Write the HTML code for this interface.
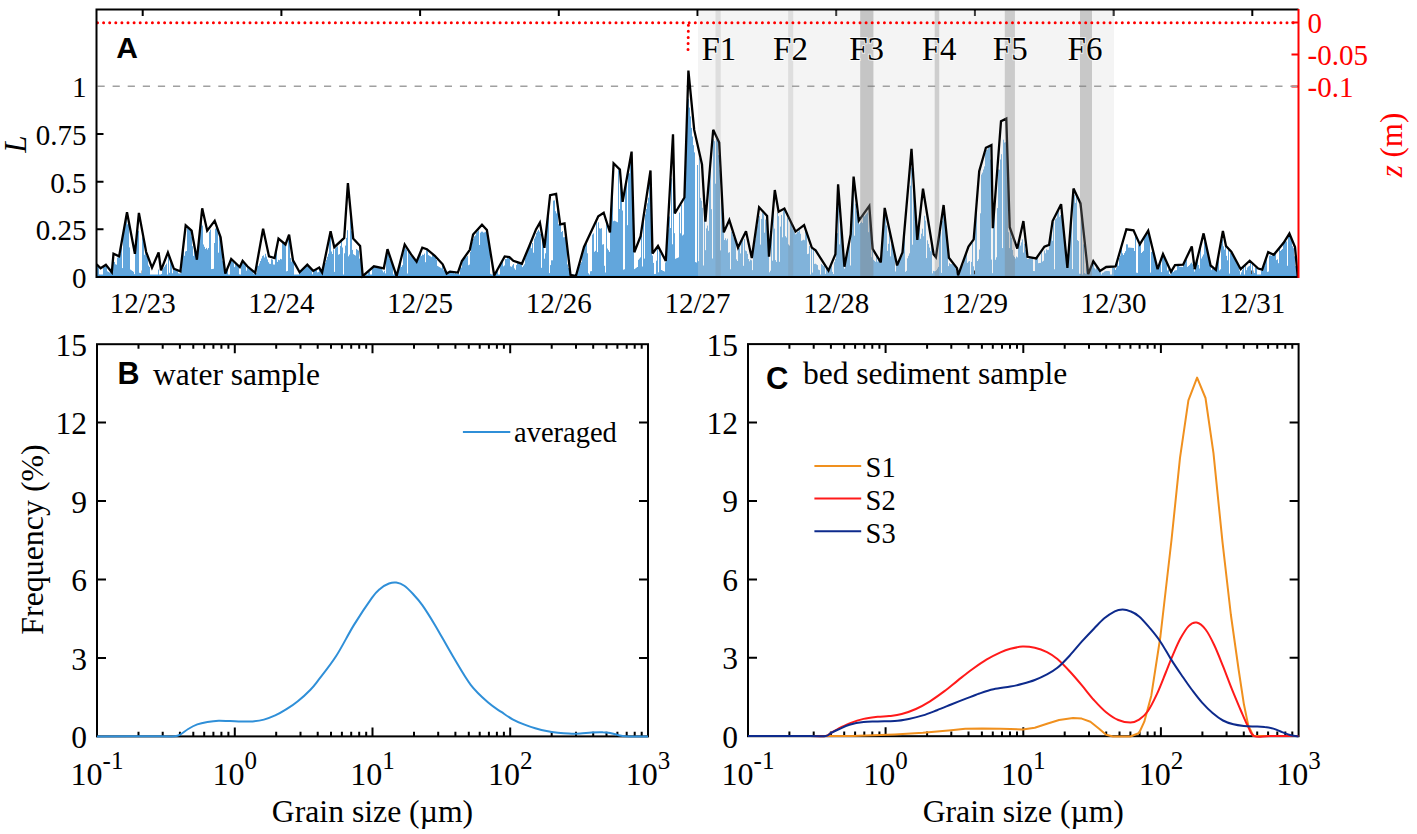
<!DOCTYPE html>
<html><head><meta charset="utf-8"><title>Figure</title>
<style>html,body{margin:0;padding:0;background:#fff;}body{width:1417px;height:834px;overflow:hidden;}svg{display:block;}</style>
</head><body>
<svg width="1417" height="834" viewBox="0 0 1417 834"><rect x="0" y="0" width="1417" height="834" fill="#fff"/>
<path d="M142.7 9.5v6.5M142.7 277.0v-6.5M281.4 9.5v6.5M281.4 277.0v-6.5M420.1 9.5v6.5M420.1 277.0v-6.5M558.8 9.5v6.5M558.8 277.0v-6.5M697.5 9.5v6.5M697.5 277.0v-6.5M836.2 9.5v6.5M836.2 277.0v-6.5M974.9 9.5v6.5M974.9 277.0v-6.5M1113.6 9.5v6.5M1113.6 277.0v-6.5M1252.3 9.5v6.5M1252.3 277.0v-6.5M96.5 277h7M96.5 229.3h7M96.5 181.7h7M96.5 134h7" stroke="#000" stroke-width="2" fill="none"/>
<path d="M1298.5 22.4h-7M1298.5 54.4h-7M1298.5 86.4h-7" stroke="#ff0000" stroke-width="2" fill="none"/>
<path d="M97.5 265.4V276M98.5 266.3V276M99.5 274.4V276M100.5 274.5V276M101.5 274.5V276M102.5 274.5V276M103.5 267V276M104.5 266.4V276M105.5 264.9V276M106.5 266.4V276M107.5 271.3V276M108.5 271.9V276M109.5 272.5V276M110.5 271.9V276M111.5 272.8V276M112.5 268.3V276M113.5 261.6V276M114.5 261.9V276M115.5 264.3V276M116.5 264.7V276M117.5 257.6V276M118.5 255.6V276M119.5 257.9V276M120.5 253.5V276M121.5 247.2V276M122.5 268.1V276M123.5 231.8V276M124.5 226.3V276M125.5 223.9V276M126.5 214.6V276M127.5 224.3V276M128.5 219.2V276M129.5 247.4V276M130.5 269.6V276M131.5 270.3V276M132.5 271V276M133.5 271.8V276M134.5 274.1V276M135.5 251.5V276M136.5 237.3V276M137.5 232.7V276M138.5 230.8V276M139.5 272.8V276M140.5 273.1V276M141.5 273.4V276M142.5 237.3V276M143.5 242V276M144.5 254.8V276M145.5 250V276M146.5 256V276M147.5 255V276M148.5 265.5V276M149.5 267V276M150.5 274.5V276M151.5 274.5V276M152.5 274.5V276M153.5 274.5V276M154.5 274.5V276M155.5 274.5V276M156.5 274.5V276M157.5 274.5V276M158.5 269.6V276M159.5 274.5V276M160.5 274.5V276M161.5 274V276M162.5 269.7V276M163.5 268.2V276M164.5 266.7V276M165.5 265.1V276M166.5 263.6V276M167.5 274.5V276M168.5 256.7V276M169.5 272.8V276M170.5 259.6V276M171.5 262.2V276M172.5 273.3V276M173.5 268V276M174.5 268.9V276M175.5 268.6V276M176.5 269.1V276M177.5 269.5V276M178.5 273.3V276M179.5 273.5V276M180.5 273.3V276M181.5 269.7V276M182.5 254.5V276M183.5 243.7V276M184.5 255.8V276M185.5 251.5V276M186.5 251V276M187.5 227.5V276M188.5 228.7V276M189.5 229.6V276M190.5 230.6V276M191.5 236.5V276M192.5 246.2V276M193.5 255.9V276M194.5 250.1V276M195.5 254.8V276M196.5 259.4V276M197.5 256.4V276M198.5 245.2V276M199.5 240.1V276M200.5 232V276M201.5 219.4V276M202.5 225.6V276M203.5 244.5V276M204.5 246.8V276M205.5 249V276M206.5 247.9V276M207.5 249.5V276M208.5 248V276M209.5 231.8V276M210.5 229.6V276M211.5 269.1V276M212.5 269V276M213.5 268.8V276M214.5 243V276M215.5 228.6V276M216.5 226.8V276M217.5 229.5V276M218.5 252.7V276M219.5 236.6V276M220.5 240V276M221.5 246.1V276M222.5 260.7V276M223.5 259.6V276M224.5 267.7V276M225.5 272.2V276M226.5 269.8V276M227.5 267.4V276M228.5 274.5V276M229.5 274.5V276M230.5 260V276M231.5 258.6V276M232.5 261.8V276M233.5 262.4V276M234.5 267.1V276M235.5 264.1V276M236.5 264.5V276M237.5 265.3V276M238.5 266.1V276M239.5 274.3V276M240.5 274.5V276M241.5 264.6V276M242.5 260.1V276M243.5 260.9V276M244.5 262.1V276M245.5 263.3V276M246.5 270.7V276M247.5 265.8V276M248.5 266.6V276M249.5 267.4V276M250.5 268.4V276M251.5 269.2V276M252.5 270V276M253.5 273.6V276M254.5 271.5V276M255.5 270.4V276M256.5 273.1V276M257.5 265.5V276M258.5 265.8V276M259.5 263.5V276M260.5 261V276M261.5 258.5V276M262.5 256.1V276M263.5 255.4V276M264.5 257.5V276M265.5 253.8V276M266.5 256.6V276M267.5 259.4V276M268.5 262.2V276M269.5 263.7V276M270.5 263.9V276M271.5 259.1V276M272.5 259.6V276M273.5 264.5V276M274.5 264.6V276M275.5 255.4V276M276.5 249.5V276M277.5 261.9V276M278.5 259.8V276M279.5 260.2V276M280.5 258.9V276M281.5 259.3V276M282.5 243V276M283.5 243.8V276M284.5 244.6V276M285.5 245.4V276M286.5 271.3V276M287.5 270.9V276M288.5 238.6V276M289.5 239.5V276M290.5 258V276M291.5 261.6V276M292.5 257.9V276M293.5 261.7V276M294.5 274.5V276M295.5 274.5V276M296.5 274.5V276M297.5 274.5V276M298.5 274.5V276M299.5 271.2V276M300.5 270.4V276M301.5 270.7V276M302.5 269.9V276M303.5 268.9V276M304.5 267.1V276M305.5 267.1V276M306.5 264.8V276M307.5 264.8V276M308.5 265.6V276M309.5 266.6V276M310.5 267.6V276M311.5 268.5V276M312.5 274.3V276M313.5 270.2V276M314.5 270.4V276M315.5 269.3V276M316.5 269.4V276M317.5 272.4V276M318.5 272.1V276M319.5 269.8V276M320.5 269.6V276M321.5 270.8V276M322.5 270.7V276M323.5 266.7V276M324.5 262.6V276M325.5 262.9V276M326.5 259.8V276M327.5 256.8V276M328.5 253.7V276M329.5 238V276M330.5 233.4V276M331.5 251.5V276M332.5 254V276M333.5 249.7V276M334.5 271.9V276M335.5 248.1V276M336.5 247.3V276M337.5 246.4V276M338.5 254.7V276M339.5 254.1V276M340.5 245.9V276M341.5 240.2V276M342.5 247.5V276M343.5 274.5V276M344.5 253.3V276M345.5 245.6V276M346.5 237.9V276M347.5 230.2V276M348.5 256.3V276M349.5 254.6V276M350.5 217.9V276M351.5 231.1V276M352.5 249.9V276M353.5 254.2V276M354.5 254.9V276M355.5 255.5V276M356.5 249V276M357.5 249.8V276M358.5 250.6V276M359.5 258.6V276M360.5 250.5V276M361.5 261.4V276M362.5 273.4V276M363.5 274.5V276M364.5 274.5V276M365.5 274.5V276M366.5 274.5V276M367.5 274.5V276M368.5 270.9V276M369.5 271.8V276M370.5 274.5V276M371.5 274.5V276M372.5 267.9V276M373.5 266.7V276M374.5 266.5V276M375.5 266.7V276M376.5 266.8V276M377.5 267V276M378.5 267.2V276M379.5 267.4V276M380.5 267.6V276M381.5 267.2V276M382.5 270.5V276M383.5 272.3V276M384.5 270.8V276M385.5 273.4V276M386.5 256.6V276M387.5 252.1V276M388.5 254.7V276M389.5 258.9V276M390.5 260.4V276M391.5 262.9V276M392.5 264.3V276M393.5 274.5V276M394.5 269.2V276M395.5 274.2V276M396.5 274.5V276M397.5 271.7V276M398.5 268.1V276M399.5 266V276M400.5 263.7V276M401.5 267V276M402.5 265.2V276M403.5 252.6V276M404.5 249.4V276M405.5 248.2V276M406.5 249.6V276M407.5 273.5V276M408.5 251.1V276M409.5 254.4V276M410.5 255.7V276M411.5 256.7V276M412.5 257.8V276M413.5 258.6V276M414.5 259.8V276M415.5 261.6V276M416.5 262.7V276M417.5 260.9V276M418.5 258.9V276M419.5 255.5V276M420.5 253.3V276M421.5 256V276M422.5 254.6V276M423.5 254.9V276M424.5 253.6V276M425.5 262.2V276M426.5 248.3V276M427.5 249V276M428.5 255.1V276M429.5 255.8V276M430.5 256.4V276M431.5 257.1V276M432.5 253.4V276M433.5 254V276M434.5 254.8V276M435.5 255.8V276M436.5 260V276M437.5 265.9V276M438.5 266.5V276M439.5 267.1V276M440.5 267.7V276M441.5 268.3V276M442.5 265.1V276M443.5 270.1V276M444.5 268.4V276M445.5 270.4V276M446.5 273V276M447.5 273V276M448.5 272.3V276M449.5 271.1V276M450.5 270.9V276M451.5 271V276M452.5 271.1V276M453.5 272.5V276M454.5 273.5V276M455.5 271.9V276M456.5 273.7V276M457.5 273.7V276M458.5 270.3V276M459.5 274.5V276M460.5 264.2V276M461.5 267.5V276M462.5 261.6V276M463.5 258.3V276M464.5 258.7V276M465.5 257.4V276M466.5 257.2V276M467.5 256V276M468.5 265.2V276M469.5 264.6V276M470.5 251.9V276M471.5 245.6V276M472.5 241.6V276M473.5 238.8V276M474.5 236.4V276M475.5 235.4V276M476.5 232.5V276M477.5 231.6V276M478.5 230.5V276M479.5 245V276M480.5 232.7V276M481.5 231.7V276M482.5 231.7V276M483.5 232.6V276M484.5 232.4V276M485.5 231.8V276M486.5 232.8V276M487.5 232.8V276M488.5 239V276M489.5 246.1V276M490.5 273.8V276M491.5 274.4V276M492.5 274.5V276M493.5 270.2V276M494.5 274.2V276M495.5 272.5V276M496.5 271.2V276M497.5 269.6V276M498.5 274.5V276M499.5 274.5V276M500.5 264.9V276M501.5 263.3V276M502.5 261.8V276M503.5 266.3V276M504.5 265.4V276M505.5 259V276M506.5 259.1V276M507.5 257.1V276M508.5 257.3V276M509.5 257.5V276M510.5 266.3V276M511.5 266.8V276M512.5 265.4V276M513.5 264V276M514.5 268.4V276M515.5 269.8V276M516.5 265V276M517.5 262.7V276M518.5 263V276M519.5 263.3V276M520.5 262.5V276M521.5 262.8V276M522.5 267.1V276M523.5 265.7V276M524.5 264.3V276M525.5 257.6V276M526.5 251.9V276M527.5 249.5V276M528.5 247.1V276M529.5 247.4V276M530.5 245.2V276M531.5 248.2V276M532.5 243V276M533.5 252.7V276M534.5 238.6V276M535.5 236.5V276M536.5 232.9V276M537.5 231.4V276M538.5 229.8V276M539.5 231.6V276M540.5 233.8V276M541.5 267.8V276M542.5 241.1V276M543.5 245.3V276M544.5 258.7V276M545.5 253.3V276M546.5 234.1V276M547.5 223.8V276M548.5 215.4V276M549.5 273.1V276M550.5 265.1V276M551.5 260.3V276M552.5 260.3V276M553.5 200.6V276M554.5 200.4V276M555.5 211.2V276M556.5 213.4V276M557.5 206.8V276M558.5 224.2V276M559.5 219V276M560.5 224.1V276M561.5 232V276M562.5 231V276M563.5 237.3V276M564.5 237.1V276M565.5 237.5V276M566.5 244.8V276M567.5 264.4V276M568.5 268V276M569.5 271.5V276M570.5 273.8V276M571.5 274.1V276M572.5 274.5V276M573.5 274.5V276M574.5 274.5V276M575.5 274.5V276M576.5 273.2V276M577.5 270.6V276M578.5 268.7V276M579.5 266.3V276M580.5 263.8V276M581.5 262.2V276M582.5 252.8V276M583.5 249.4V276M584.5 246.7V276M585.5 244.7V276M586.5 242.7V276M587.5 253.3V276M588.5 273.3V276M589.5 274.5V276M590.5 271.3V276M591.5 271.1V276M592.5 234.6V276M593.5 233.4V276M594.5 251.8V276M595.5 250.8V276M596.5 221.4V276M597.5 252.1V276M598.5 222.3V276M599.5 228.3V276M600.5 228.7V276M601.5 228.2V276M602.5 244.6V276M603.5 244.2V276M604.5 265.8V276M605.5 272.5V276M606.5 224.1V276M607.5 248.6V276M608.5 250.2V276M609.5 251.9V276M610.5 224.7V276M611.5 206.4V276M612.5 192.4V276M613.5 221.2V276M614.5 220.7V276M615.5 221.2V276M616.5 221.7V276M617.5 222.2V276M618.5 170.2V276M619.5 209V276M620.5 184.4V276M621.5 195.3V276M622.5 210.5V276M623.5 269.7V276M624.5 269.3V276M625.5 188.9V276M626.5 183.5V276M627.5 225.2V276M628.5 173.9V276M629.5 173.2V276M630.5 159.8V276M631.5 160.8V276M632.5 191.3V276M633.5 225.7V276M634.5 269.1V276M635.5 268.4V276M636.5 267.7V276M637.5 267V276M638.5 259.8V276M639.5 258.6V276M640.5 257.4V276M641.5 231.7V276M642.5 266.5V276M643.5 217.8V276M644.5 258.6V276M645.5 214.4V276M646.5 208.9V276M647.5 203.3V276M648.5 197.7V276M649.5 182.7V276M650.5 183.2V276M651.5 219.3V276M652.5 255.5V276M653.5 262.9V276M654.5 274V276M655.5 273.9V276M656.5 260.7V276M657.5 246.5V276M658.5 272.3V276M659.5 251.2V276M660.5 253.5V276M661.5 270V276M662.5 270.5V276M663.5 271V276M664.5 271.5V276M665.5 262.4V276M666.5 248.7V276M667.5 231.7V276M668.5 229.4V276M669.5 216.5V276M670.5 228V276M671.5 178.3V276M672.5 244.3V276M673.5 163.3V276M674.5 233.2V276M675.5 258.8V276M676.5 258.3V276M677.5 257.9V276M678.5 257.4V276M679.5 212.6V276M680.5 233.3V276M681.5 204.7V276M682.5 235.5V276M683.5 234.6V276M684.5 197.2V276M685.5 166.9V276M686.5 140.9V276M687.5 111.6V276M688.5 98.8V276M689.5 107.6V276M690.5 116.4V276M691.5 127.9V276M692.5 136.5V276M693.5 145.2V276M694.5 152.4V276M695.5 262.1V276M696.5 262.5V276M697.5 165V276M698.5 261.2V276M699.5 158.3V276M700.5 197.9V276M701.5 200.8V276M702.5 207.8V276M703.5 265.5V276M704.5 211.8V276M705.5 250.2V276M706.5 228.4V276M707.5 225.6V276M708.5 230.8V276M709.5 176.6V276M710.5 167.2V276M711.5 209.2V276M712.5 258.5V276M713.5 139.2V276M714.5 141.2V276M715.5 183.7V276M716.5 137.6V276M717.5 139.7V276M718.5 155.1V276M719.5 169.7V276M720.5 250.4V276M721.5 201V276M722.5 209.6V276M723.5 227.1V276M724.5 240V276M725.5 238.3V276M726.5 240.3V276M727.5 238.7V276M728.5 252.7V276M729.5 252.2V276M730.5 269.3V276M731.5 231.9V276M732.5 234.7V276M733.5 237.5V276M734.5 239V276M735.5 241.9V276M736.5 259.4V276M737.5 261V276M738.5 247.6V276M739.5 248.1V276M740.5 253.4V276M741.5 243V276M742.5 241.1V276M743.5 265.8V276M744.5 239V276M745.5 250.5V276M746.5 251.2V276M747.5 253.9V276M748.5 259V276M749.5 261.3V276M750.5 259.7V276M751.5 260.3V276M752.5 270.1V276M753.5 250V276M754.5 245V276M755.5 239.3V276M756.5 231.4V276M757.5 225.3V276M758.5 219.3V276M759.5 216.1V276M760.5 244.6V276M761.5 218.9V276M762.5 212.6V276M763.5 213.5V276M764.5 232.7V276M765.5 219.5V276M766.5 222.4V276M767.5 230.4V276M768.5 249V276M769.5 272.3V276M770.5 270.7V276M771.5 231V276M772.5 260.7V276M773.5 208.3V276M774.5 228.6V276M775.5 260.1V276M776.5 261.9V276M777.5 213V276M778.5 216.2V276M779.5 261.8V276M780.5 226.6V276M781.5 214.9V276M782.5 237.3V276M783.5 210.2V276M784.5 209.9V276M785.5 236.2V276M786.5 237.5V276M787.5 217.9V276M788.5 244.4V276M789.5 245.5V276M790.5 222.4V276M791.5 224.4V276M792.5 228.6V276M793.5 230.5V276M794.5 232.4V276M795.5 234.3V276M796.5 233.6V276M797.5 232V276M798.5 231.7V276M799.5 230.2V276M800.5 233.8V276M801.5 240.8V276M802.5 240.3V276M803.5 239.7V276M804.5 240.2V276M805.5 231.2V276M806.5 232.8V276M807.5 254.1V276M808.5 253.7V276M809.5 246V276M810.5 274.5V276M811.5 246.2V276M812.5 272.6V276M813.5 247.9V276M814.5 263.9V276M815.5 263.7V276M816.5 264.4V276M817.5 265.1V276M818.5 269.6V276M819.5 270.1V276M820.5 274.5V276M821.5 264V276M822.5 265V276M823.5 266.1V276M824.5 263.7V276M825.5 273.9V276M826.5 268.6V276M827.5 269.8V276M828.5 270.7V276M829.5 268.8V276M830.5 266.7V276M831.5 264.7V276M832.5 271.9V276M833.5 274V276M834.5 262.2V276M835.5 259V276M836.5 242.3V276M837.5 233.2V276M838.5 191.9V276M839.5 244.4V276M840.5 216.6V276M841.5 229.3V276M842.5 241.9V276M843.5 263.4V276M844.5 268.7V276M845.5 260.6V276M846.5 255.6V276M847.5 250.6V276M848.5 245.6V276M849.5 240.5V276M850.5 265.5V276M851.5 221.8V276M852.5 203.5V276M853.5 183.2V276M854.5 235.7V276M855.5 203.8V276M856.5 210.6V276M857.5 215.2V276M858.5 222.8V276M859.5 224.2V276M860.5 223V276M861.5 221.7V276M862.5 223V276M863.5 214.4V276M864.5 216.4V276M865.5 215.1V276M866.5 213.8V276M867.5 212.5V276M868.5 232.2V276M869.5 218V276M870.5 229V276M871.5 257.2V276M872.5 251.1V276M873.5 259.8V276M874.5 260.8V276M875.5 261.8V276M876.5 256.3V276M877.5 261.7V276M878.5 258.3V276M879.5 261.4V276M880.5 262.8V276M881.5 254.8V276M882.5 242.7V276M883.5 230.7V276M884.5 218.6V276M885.5 217V276M886.5 225.5V276M887.5 250.9V276M888.5 243.8V276M889.5 231.9V276M890.5 256.4V276M891.5 243.7V276M892.5 247.7V276M893.5 251.7V276M894.5 252.7V276M895.5 271.5V276M896.5 261.7V276M897.5 263.5V276M898.5 261.1V276M899.5 259.6V276M900.5 257.4V276M901.5 257.4V276M902.5 255.4V276M903.5 245.7V276M904.5 236V276M905.5 271.8V276M906.5 270.9V276M907.5 258.3V276M908.5 255.8V276M909.5 253.4V276M910.5 185.7V276M911.5 167.7V276M912.5 244.7V276M913.5 188.8V276M914.5 202.9V276M915.5 215V276M916.5 229.7V276M917.5 239.7V276M918.5 231.3V276M919.5 227.9V276M920.5 238.8V276M921.5 233.7V276M922.5 228.7V276M923.5 236.2V276M924.5 215.8V276M925.5 220.6V276M926.5 258.1V276M927.5 240.3V276M928.5 243.9V276M929.5 247.6V276M930.5 251.2V276M931.5 240.3V276M932.5 273.4V276M933.5 270.9V276M934.5 271.3V276M935.5 271.1V276M936.5 270.2V276M937.5 268.6V276M938.5 266.9V276M939.5 238.3V276M940.5 232.2V276M941.5 272.9V276M942.5 220.8V276M943.5 215V276M944.5 222.1V276M945.5 229.8V276M946.5 238.5V276M947.5 243.9V276M948.5 266.1V276M949.5 263.2V276M950.5 264.1V276M951.5 264.2V276M952.5 263.9V276M953.5 262.9V276M954.5 264.2V276M955.5 265.4V276M956.5 271.6V276M957.5 271.4V276M958.5 274.4V276M959.5 272.7V276M960.5 268V276M961.5 265.3V276M962.5 266.3V276M963.5 264.4V276M964.5 258.4V276M965.5 255.7V276M966.5 253.2V276M967.5 262.9V276M968.5 261.6V276M969.5 261V276M970.5 274.5V276M971.5 261.9V276M972.5 243.1V276M973.5 266.3V276M974.5 274.2V276M975.5 223.8V276M976.5 213.1V276M977.5 261V276M978.5 259.3V276M979.5 249.5V276M980.5 213.3V276M981.5 174.5V276M982.5 172.6V276M983.5 169.5V276M984.5 166.4V276M985.5 152.6V276M986.5 150V276M987.5 149.5V276M988.5 147V276M989.5 146.5V276M990.5 159.6V276M991.5 259.6V276M992.5 273.2V276M993.5 218.7V276M994.5 206.5V276M995.5 259.8V276M996.5 257.3V276M997.5 208.1V276M998.5 169.4V276M999.5 169.7V276M1000.5 159.5V276M1001.5 154.2V276M1002.5 248.1V276M1003.5 139.7V276M1004.5 142.6V276M1005.5 142.2V276M1006.5 147.3V276M1007.5 174.3V276M1008.5 232.2V276M1009.5 248.1V276M1010.5 231.8V276M1011.5 237.7V276M1012.5 250V276M1013.5 255.5V276M1014.5 257V276M1015.5 258.5V276M1016.5 256.6V276M1017.5 257.4V276M1018.5 246.8V276M1019.5 242.6V276M1020.5 245.6V276M1021.5 242.4V276M1022.5 239.3V276M1023.5 252.6V276M1024.5 243.8V276M1025.5 249.9V276M1026.5 255.9V276M1027.5 258.9V276M1028.5 259V276M1029.5 257.5V276M1030.5 258.1V276M1031.5 257.4V276M1032.5 257.7V276M1033.5 271V276M1034.5 271.1V276M1035.5 259V276M1036.5 259V276M1037.5 257V276M1038.5 263.2V276M1039.5 263V276M1040.5 262.9V276M1041.5 252.1V276M1042.5 261.6V276M1043.5 260.8V276M1044.5 250.6V276M1045.5 253.3V276M1046.5 249.3V276M1047.5 250.1V276M1048.5 249.8V276M1049.5 241.7V276M1050.5 234.4V276M1051.5 230.3V276M1052.5 240.8V276M1053.5 221.7V276M1054.5 269.3V276M1055.5 219.1V276M1056.5 218.2V276M1057.5 210.4V276M1058.5 208.4V276M1059.5 216.8V276M1060.5 215.1V276M1061.5 213.3V276M1062.5 222.5V276M1063.5 229.1V276M1064.5 241.6V276M1065.5 250.7V276M1066.5 259.8V276M1067.5 267.2V276M1068.5 256.1V276M1069.5 243.9V276M1070.5 235.1V276M1071.5 221.4V276M1072.5 269.1V276M1073.5 192.8V276M1074.5 194.8V276M1075.5 202.9V276M1076.5 193.9V276M1077.5 240.1V276M1078.5 241.1V276M1079.5 273.7V276M1080.5 273.8V276M1081.5 216.1V276M1082.5 274.5V276M1083.5 244.4V276M1084.5 273.1V276M1085.5 273.8V276M1086.5 259.7V276M1087.5 272.1V276M1088.5 272.4V276M1089.5 270.6V276M1090.5 268.5V276M1091.5 266.1V276M1092.5 264V276M1093.5 261.9V276M1094.5 268.2V276M1095.5 269.4V276M1096.5 265.3V276M1097.5 266.7V276M1098.5 268.1V276M1099.5 270.7V276M1100.5 271V276M1101.5 274.5V276M1102.5 272.8V276M1103.5 272.5V276M1104.5 271.6V276M1105.5 271.2V276M1106.5 271V276M1107.5 271V276M1108.5 271V276M1109.5 271.3V276M1110.5 274.5V276M1111.5 274.5V276M1112.5 267.2V276M1113.5 266.8V276M1114.5 267.9V276M1115.5 269.9V276M1116.5 268.1V276M1117.5 263V276M1118.5 265.8V276M1119.5 258.1V276M1120.5 255.5V276M1121.5 249.2V276M1122.5 253.3V276M1123.5 255V276M1124.5 253.1V276M1125.5 251.2V276M1126.5 244.3V276M1127.5 244.4V276M1128.5 247.6V276M1129.5 247.6V276M1130.5 247.7V276M1131.5 247.8V276M1132.5 247.9V276M1133.5 248V276M1134.5 251V276M1135.5 234.7V276M1136.5 272.7V276M1137.5 272.9V276M1138.5 244.6V276M1139.5 244.5V276M1140.5 244.1V276M1141.5 253V276M1142.5 251.9V276M1143.5 250.8V276M1144.5 237.8V276M1145.5 236.3V276M1146.5 234.7V276M1147.5 233.2V276M1148.5 233.3V276M1149.5 237.1V276M1150.5 272.6V276M1151.5 251.9V276M1152.5 251.2V276M1153.5 254.3V276M1154.5 257.9V276M1155.5 261.7V276M1156.5 265.3V276M1157.5 269.2V276M1158.5 267.4V276M1159.5 265.1V276M1160.5 263.8V276M1161.5 272.1V276M1162.5 255.1V276M1163.5 254.8V276M1164.5 256.9V276M1165.5 262.5V276M1166.5 261.3V276M1167.5 270.5V276M1168.5 269.5V276M1169.5 274V276M1170.5 274.5V276M1171.5 270.8V276M1172.5 268.8V276M1173.5 272V276M1174.5 270.7V276M1175.5 270.3V276M1176.5 270.2V276M1177.5 265.6V276M1178.5 265.6V276M1179.5 266.6V276M1180.5 266.8V276M1181.5 266.8V276M1182.5 267.1V276M1183.5 264.8V276M1184.5 262.2V276M1185.5 261.4V276M1186.5 259.6V276M1187.5 266.9V276M1188.5 266V276M1189.5 265.1V276M1190.5 263.6V276M1191.5 262.7V276M1192.5 264.3V276M1193.5 267.9V276M1194.5 271.6V276M1195.5 266.8V276M1196.5 262.1V276M1197.5 258.4V276M1198.5 265V276M1199.5 268.5V276M1200.5 245.2V276M1201.5 258.5V276M1202.5 256.5V276M1203.5 254.5V276M1204.5 241.5V276M1205.5 245.5V276M1206.5 246.1V276M1207.5 250.6V276M1208.5 255.9V276M1209.5 260.2V276M1210.5 264.6V276M1211.5 270.1V276M1212.5 268.7V276M1213.5 269.3V276M1214.5 269.9V276M1215.5 268.7V276M1216.5 265.6V276M1217.5 262.4V276M1218.5 257.7V276M1219.5 270.4V276M1220.5 269.3V276M1221.5 244V276M1222.5 239.4V276M1223.5 246.3V276M1224.5 249.6V276M1225.5 243.9V276M1226.5 255.8V276M1227.5 260.3V276M1228.5 248.6V276M1229.5 273.6V276M1230.5 252.9V276M1231.5 254V276M1232.5 255.6V276M1233.5 257.3V276M1234.5 257V276M1235.5 258.6V276M1236.5 263V276M1237.5 264V276M1238.5 265.2V276M1239.5 270.6V276M1240.5 274.5V276M1241.5 272.3V276M1242.5 270V276M1243.5 266.4V276M1244.5 274.5V276M1245.5 265.6V276M1246.5 270.2V276M1247.5 267.5V276M1248.5 266.5V276M1249.5 265.9V276M1250.5 263V276M1251.5 274.1V276M1252.5 263V276M1253.5 272.2V276M1254.5 273V276M1255.5 267.4V276M1256.5 267.5V276M1257.5 274.5V276M1258.5 274.5V276M1259.5 274.5V276M1260.5 274.5V276M1261.5 270.3V276M1262.5 268.4V276M1263.5 266.5V276M1264.5 266V276M1265.5 261.7V276M1266.5 256.2V276M1267.5 271.9V276M1268.5 271.5V276M1269.5 255.6V276M1270.5 255.4V276M1271.5 255.8V276M1272.5 254.9V276M1273.5 255.3V276M1274.5 254.7V276M1275.5 253.5V276M1276.5 260.1V276M1277.5 259.4V276M1278.5 263.2V276M1279.5 248.5V276M1280.5 251V276M1281.5 250V276M1282.5 249V276M1283.5 243.1V276M1284.5 241.7V276M1285.5 240.1V276M1286.5 241.4V276M1287.5 265.8V276M1288.5 237V276M1289.5 235.9V276M1290.5 238.1V276M1291.5 240.3V276M1292.5 246.2V276M1293.5 248.2V276M1294.5 256.3V276M1295.5 266.1V276M1296.5 270.4V276" stroke="#62a6dc" stroke-width="1" fill="none"/>
<line x1="97" y1="275.5" x2="1297.5" y2="275.5" stroke="#4aa3e6" stroke-width="1.2"/>
<rect x="698" y="10.5" width="416" height="265.5" fill="#d8d8d8" fill-opacity="0.27"/>
<line x1="97.5" y1="86.3" x2="1297.5" y2="86.3" stroke="#a0a0a0" stroke-width="1.6" stroke-dasharray="7.2 7.9"/>
<path d="M96.6 264.3 L100.6 268.3 L105.9 264.7 L111.8 272.2 L113.5 253.8 L119.1 256.4 L127 212.2 L134.9 253.8 L138.9 212.9 L146.1 251.8 L152 267.6 L158.6 252.5 L161 270.3 L167.9 252.5 L173.8 268.7 L180.4 271.3 L185.7 225.4 L191.6 230.7 L196.9 259.7 L202.2 208.3 L207.2 230.7 L214.7 220.8 L220.6 237.3 L225.3 273.6 L231.2 259 L239.8 267 L242.6 260.8 L247.3 266.3 L255.2 272.9 L263.1 228.7 L269 256.4 L274.6 258.1 L278.5 238.6 L285.5 244.5 L289.1 234.6 L293 260.4 L299.6 272.2 L307.3 264.7 L313.2 270.9 L319.2 267.6 L322.1 272.6 L330.6 231.3 L334.3 247.2 L344.2 237.9 L347.9 183.2 L353.2 238.6 L360.1 245.9 L362.7 276.2 L373.9 266.3 L383.8 268.3 L387.5 249.2 L396.6 276.2 L404.7 244.5 L411.1 254.4 L416.6 261.7 L422.3 247.6 L426.9 249.2 L434.8 255.8 L442.7 264.3 L446.7 273.6 L450 271.6 L457.9 272.6 L461.9 261 L469.8 249.8 L473.1 234.6 L482 224.7 L486.9 230 L494.2 275.5 L504.7 256.4 L509.4 257.1 L513.3 260.8 L521.9 263.7 L529.1 246.5 L536 229.4 L539.9 222.6 L544.4 247.8 L550.1 195.1 L556.1 193.8 L560.2 224.4 L564.5 223.5 L570.5 274.8 L575.9 276 L584 246.9 L598.3 216.3 L603.7 212.7 L610 232.5 L613.6 163.3 L619.9 169.6 L622.6 201.9 L631.6 151.6 L634.3 252.3 L640.6 236.1 L650.5 170.5 L652.5 253.5 L658 246 L665.8 261 L673 134.2 L674.8 213.5 L684.4 197.5 L688.4 70.6 L694.2 129.9 L702 164.5 L705.4 221.6 L713.2 129.8 L719.2 142.6 L723.8 232.4 L729.3 220.1 L738 247.6 L746 231.3 L751.8 258.1 L759.1 207.3 L767.1 215.9 L769 256.6 L774.8 190 L778.6 211.7 L784.4 208.6 L795.5 231.6 L804.1 225.1 L811.8 247.6 L815.6 250.4 L828.5 270.6 L835.4 254.3 L838.1 184.3 L844.4 266.7 L850.7 234.1 L853.6 176.6 L858.8 220.7 L869.3 205.9 L872.6 248.9 L880.8 262.3 L884.7 207.9 L897.1 265.4 L902.5 252.4 L911.5 148.8 L917.3 239.9 L923 188.7 L933.6 254.3 L935.9 257.2 L943.6 205 L948.9 257.7 L957 268.1 L958.1 275.4 L968.5 246.6 L973.7 239.4 L979.2 171.2 L985.9 147.7 L991.4 145.1 L992.8 228.2 L1001 121.2 L1006.3 118.6 L1009.7 227.2 L1017.3 248.6 L1023.4 221.1 L1027.5 256.8 L1036.2 258.4 L1044.4 246.6 L1049.1 244.9 L1052.6 221.1 L1061.1 204.2 L1067.4 268 L1073.5 188.5 L1080.5 203.4 L1088.2 274.1 L1093.3 261.2 L1100 271 L1106.2 267 L1115.6 266.5 L1126.4 229.3 L1133.5 230.3 L1139.8 244.4 L1148.2 230.7 L1157.6 269.2 L1163 254 L1171 271.8 L1175 265.1 L1183.1 264.7 L1191.8 246.4 L1194.7 269.2 L1203.6 233.4 L1210.6 265.5 L1215.9 269.8 L1222.9 231 L1226 246 L1231.3 251.7 L1240.7 269.2 L1249.7 260.7 L1258.2 268.5 L1262.2 269.6 L1268.2 252.1 L1273.8 254.8 L1283.6 242.8 L1289.4 233.6 L1295 247 L1297.7 276.5" stroke="#000" stroke-width="2.3" fill="none" stroke-linejoin="miter" stroke-miterlimit="3"/>
<rect x="715.5" y="10.5" width="5.2" height="265.5" fill="#7a7a7a" fill-opacity="0.18"/>
<rect x="788.2" y="10.5" width="5.0" height="265.5" fill="#7a7a7a" fill-opacity="0.18"/>
<rect x="860.2" y="10.5" width="13.2" height="265.5" fill="#7a7a7a" fill-opacity="0.38"/>
<rect x="934.7" y="10.5" width="4.5" height="265.5" fill="#7a7a7a" fill-opacity="0.31"/>
<rect x="1004.8" y="10.5" width="10.1" height="265.5" fill="#7a7a7a" fill-opacity="0.34"/>
<rect x="1080" y="10.5" width="12" height="265.5" fill="#7a7a7a" fill-opacity="0.36"/>
<line x1="97.5" y1="22.7" x2="1297.5" y2="22.7" stroke="#ff0000" stroke-width="3" stroke-linecap="round" stroke-dasharray="0 6.1"/>
<line x1="688.4" y1="25.2" x2="688" y2="50.5" stroke="#ff0000" stroke-width="3" stroke-linecap="round" stroke-dasharray="0 6.1"/>
<path d="M1298.5 9.5H96.5V277.0H1298.5" stroke="#000" stroke-width="2" fill="none"/>
<line x1="1298.5" y1="9.0" x2="1298.5" y2="278.0" stroke="#ff0000" stroke-width="2"/>
<text x="86.5" y="288" font-family='"Liberation Serif", serif' font-size="29" text-anchor="end">0</text>
<text x="86.5" y="240.3" font-family='"Liberation Serif", serif' font-size="29" text-anchor="end">0.25</text>
<text x="86.5" y="192.7" font-family='"Liberation Serif", serif' font-size="29" text-anchor="end">0.5</text>
<text x="86.5" y="145" font-family='"Liberation Serif", serif' font-size="29" text-anchor="end">0.75</text>
<text x="86.5" y="97.3" font-family='"Liberation Serif", serif' font-size="29" text-anchor="end">1</text>
<text x="142.7" y="312.5" font-family='"Liberation Serif", serif' font-size="29" text-anchor="middle">12/23</text>
<text x="281.4" y="312.5" font-family='"Liberation Serif", serif' font-size="29" text-anchor="middle">12/24</text>
<text x="420.1" y="312.5" font-family='"Liberation Serif", serif' font-size="29" text-anchor="middle">12/25</text>
<text x="558.8" y="312.5" font-family='"Liberation Serif", serif' font-size="29" text-anchor="middle">12/26</text>
<text x="697.5" y="312.5" font-family='"Liberation Serif", serif' font-size="29" text-anchor="middle">12/27</text>
<text x="836.2" y="312.5" font-family='"Liberation Serif", serif' font-size="29" text-anchor="middle">12/28</text>
<text x="974.9" y="312.5" font-family='"Liberation Serif", serif' font-size="29" text-anchor="middle">12/29</text>
<text x="1113.6" y="312.5" font-family='"Liberation Serif", serif' font-size="29" text-anchor="middle">12/30</text>
<text x="1252.3" y="312.5" font-family='"Liberation Serif", serif' font-size="29" text-anchor="middle">12/31</text>
<text x="1307.5" y="33.4" font-family='"Liberation Serif", serif' font-size="29" fill="#ff0000">0</text>
<text x="1307.5" y="65.4" font-family='"Liberation Serif", serif' font-size="29" fill="#ff0000">-0.05</text>
<text x="1307.5" y="97.4" font-family='"Liberation Serif", serif' font-size="29" fill="#ff0000">-0.1</text>
<text x="718.9" y="59.9" font-family='"Liberation Serif", serif' font-size="33" text-anchor="middle" stroke="#fff" stroke-width="2" stroke-opacity="0.7" paint-order="stroke">F1</text>
<text x="790.5" y="59.9" font-family='"Liberation Serif", serif' font-size="33" text-anchor="middle" stroke="#fff" stroke-width="2" stroke-opacity="0.7" paint-order="stroke">F2</text>
<text x="866.6" y="59.9" font-family='"Liberation Serif", serif' font-size="33" text-anchor="middle" stroke="#fff" stroke-width="2" stroke-opacity="0.7" paint-order="stroke">F3</text>
<text x="939.1" y="59.9" font-family='"Liberation Serif", serif' font-size="33" text-anchor="middle" stroke="#fff" stroke-width="2" stroke-opacity="0.7" paint-order="stroke">F4</text>
<text x="1010.3" y="59.9" font-family='"Liberation Serif", serif' font-size="33" text-anchor="middle" stroke="#fff" stroke-width="2" stroke-opacity="0.7" paint-order="stroke">F5</text>
<text x="1085" y="59.9" font-family='"Liberation Serif", serif' font-size="33" text-anchor="middle" stroke="#fff" stroke-width="2" stroke-opacity="0.7" paint-order="stroke">F6</text>
<text x="116.3" y="58.4" font-family='"Liberation Sans", sans-serif' font-weight="bold" font-size="30">A</text>
<text transform="translate(26.4,144.2) rotate(-90)" font-family='"Liberation Serif", serif' font-style="italic" font-size="31" text-anchor="middle">L</text>
<text transform="translate(1402.4,145) rotate(-90)" font-family='"Liberation Serif", serif' font-size="31" text-anchor="middle" fill="#ff0000"><tspan font-style="italic">z</tspan> (m)</text>
<path d="M138.5 736.4v-4.6M138.5 344.2v4.6M162.7 736.4v-4.6M162.7 344.2v4.6M179.9 736.4v-4.6M179.9 344.2v4.6M193.3 736.4v-4.6M193.3 344.2v4.6M204.2 736.4v-4.6M204.2 344.2v4.6M213.4 736.4v-4.6M213.4 344.2v4.6M221.4 736.4v-4.6M221.4 344.2v4.6M228.4 736.4v-4.6M228.4 344.2v4.6M276.2 736.4v-4.6M276.2 344.2v4.6M300.5 736.4v-4.6M300.5 344.2v4.6M317.7 736.4v-4.6M317.7 344.2v4.6M331 736.4v-4.6M331 344.2v4.6M341.9 736.4v-4.6M341.9 344.2v4.6M351.2 736.4v-4.6M351.2 344.2v4.6M359.2 736.4v-4.6M359.2 344.2v4.6M366.2 736.4v-4.6M366.2 344.2v4.6M414 736.4v-4.6M414 344.2v4.6M438.2 736.4v-4.6M438.2 344.2v4.6M455.4 736.4v-4.6M455.4 344.2v4.6M468.8 736.4v-4.6M468.8 344.2v4.6M479.7 736.4v-4.6M479.7 344.2v4.6M488.9 736.4v-4.6M488.9 344.2v4.6M496.9 736.4v-4.6M496.9 344.2v4.6M503.9 736.4v-4.6M503.9 344.2v4.6M551.7 736.4v-4.6M551.7 344.2v4.6M576 736.4v-4.6M576 344.2v4.6M593.2 736.4v-4.6M593.2 344.2v4.6M606.5 736.4v-4.6M606.5 344.2v4.6M617.4 736.4v-4.6M617.4 344.2v4.6M626.7 736.4v-4.6M626.7 344.2v4.6M634.7 736.4v-4.6M634.7 344.2v4.6M641.7 736.4v-4.6M641.7 344.2v4.6M234.8 736.4v-9M234.8 344.2v9M372.5 736.4v-9M372.5 344.2v9M510.2 736.4v-9M510.2 344.2v9M97.0 658h9M648.0 658h-9M97.0 579.5h9M648.0 579.5h-9M97.0 501.1h9M648.0 501.1h-9M97.0 422.6h9M648.0 422.6h-9" stroke="#000" stroke-width="2" fill="none"/><rect x="97.0" y="344.2" width="551" height="392.2" stroke="#000" stroke-width="2" fill="none"/>
<path d="M97 736.4C107.5 736.4 147.1 736.3 160 736.3C172.9 736.3 171.3 736.6 174.7 736.3C178.1 736 178.1 735.8 180.3 734.6C182.6 733.4 185.4 730.7 188.2 729C191 727.3 194.1 725.6 197.3 724.4C200.5 723.2 203.8 722.6 207.4 722C211 721.4 214.9 720.9 218.7 720.7C222.5 720.6 226.2 721 230 721.1C233.8 721.2 237.5 721.6 241.3 721.6C245.1 721.6 248.8 721.7 252.6 721.4C256.4 721.1 260.1 720.6 263.9 719.6C267.7 718.6 271.4 717.1 275.2 715.4C279 713.7 282.7 711.6 286.5 709.2C290.3 706.9 293.9 704.5 297.8 701.3C301.8 698.1 306.8 693.5 310.2 690C313.6 686.5 313.7 686.2 318 680.6C322.3 675 330 665.6 336 656.3C342 647 348 634.6 354 624.9C360 615.2 367.6 603.9 371.9 597.9C376.2 591.9 377.1 591.3 380 588.9C382.9 586.5 386.3 584.5 389 583.5C391.7 582.5 393.6 582.2 396.2 582.6C398.8 583 401.4 583.8 404.3 585.8C407.2 587.8 410.3 591.1 413.3 594.3C416.3 597.5 418.7 600 422.3 605.1C425.9 610.2 429.8 616.4 434.9 624.9C440 633.4 446.9 646.3 452.9 656.3C458.9 666.3 464.9 677.3 470.9 685.1C476.9 692.9 483.7 698.6 488.8 703.1C493.9 707.6 497.3 709.2 501.3 711.9C505.3 714.6 508.8 717.2 512.6 719.3C516.4 721.4 520.1 722.9 523.9 724.4C527.7 725.9 531.4 727.2 535.2 728.3C539 729.4 542.7 730.4 546.5 731.1C550.3 731.9 554 732.4 557.8 732.8C561.5 733.2 565.2 733.5 569 733.6C572.8 733.7 576.5 733.6 580.3 733.4C584.1 733.2 587.8 732.7 591.6 732.5C595.4 732.3 600.1 732.2 602.9 732.3C605.7 732.3 606.7 732.5 608.6 732.8C610.5 733.1 612.3 733.6 614.2 734C616.1 734.4 618 735 619.9 735.4C621.8 735.8 623 736 625.5 736.2C628 736.4 631.2 736.4 635 736.4C638.8 736.4 645.8 736.4 648 736.4" stroke="#2f8fd8" stroke-width="2.0" fill="none" stroke-linejoin="round"/>
<path d="M789.4 736.2v-4.6M789.4 344.1v4.6M813.7 736.2v-4.6M813.7 344.1v4.6M830.9 736.2v-4.6M830.9 344.1v4.6M844.2 736.2v-4.6M844.2 344.1v4.6M855.1 736.2v-4.6M855.1 344.1v4.6M864.3 736.2v-4.6M864.3 344.1v4.6M872.3 736.2v-4.6M872.3 344.1v4.6M879.4 736.2v-4.6M879.4 344.1v4.6M927.1 736.2v-4.6M927.1 344.1v4.6M951.3 736.2v-4.6M951.3 344.1v4.6M968.5 736.2v-4.6M968.5 344.1v4.6M981.9 736.2v-4.6M981.9 344.1v4.6M992.8 736.2v-4.6M992.8 344.1v4.6M1002 736.2v-4.6M1002 344.1v4.6M1010 736.2v-4.6M1010 344.1v4.6M1017 736.2v-4.6M1017 344.1v4.6M1064.7 736.2v-4.6M1064.7 344.1v4.6M1089 736.2v-4.6M1089 344.1v4.6M1106.2 736.2v-4.6M1106.2 344.1v4.6M1119.5 736.2v-4.6M1119.5 344.1v4.6M1130.4 736.2v-4.6M1130.4 344.1v4.6M1139.6 736.2v-4.6M1139.6 344.1v4.6M1147.6 736.2v-4.6M1147.6 344.1v4.6M1154.7 736.2v-4.6M1154.7 344.1v4.6M1202.4 736.2v-4.6M1202.4 344.1v4.6M1226.6 736.2v-4.6M1226.6 344.1v4.6M1243.8 736.2v-4.6M1243.8 344.1v4.6M1257.2 736.2v-4.6M1257.2 344.1v4.6M1268.1 736.2v-4.6M1268.1 344.1v4.6M1277.3 736.2v-4.6M1277.3 344.1v4.6M1285.3 736.2v-4.6M1285.3 344.1v4.6M1292.3 736.2v-4.6M1292.3 344.1v4.6M885.6 736.2v-9M885.6 344.1v9M1023.3 736.2v-9M1023.3 344.1v9M1160.9 736.2v-9M1160.9 344.1v9M748.0 657.8h9M1298.6 657.8h-9M748.0 579.4h9M1298.6 579.4h-9M748.0 500.9h9M1298.6 500.9h-9M748.0 422.5h9M1298.6 422.5h-9" stroke="#000" stroke-width="2" fill="none"/><rect x="748.0" y="344.1" width="550.6" height="392.1" stroke="#000" stroke-width="2" fill="none"/>
<path d="M825.5 736.1 L852.3 735.9 L873.5 735.2 L894.7 734.4 L922.9 732.8 L951.1 730.2 L965.3 728.8 L982.2 728.4 L1000.5 728.8 L1010.4 729 L1022.6 729.6 L1034.8 727.8 L1047 723.8 L1059.1 720 L1073 717.9 L1081.7 718.6 L1090.4 721.7 L1099.1 728.7 L1106.1 734.8 L1113 736.5 L1130.4 736.5 L1139.1 733 L1144.3 721.7 L1151.3 695.7 L1160.4 636.5 L1171.5 540 L1180 457.9 L1188.4 400.4 L1197.1 377.6 L1205.5 398 L1213.5 453.4 L1222.5 542.2 L1230.9 615 L1238.6 669.5 L1243.9 704.3 L1248.2 725.1 L1253.4 736.1 L1270 736.1" stroke="#f0901e" stroke-width="2.0" fill="none" stroke-linejoin="round"/>
<path d="M748 736.1C758.3 736.1 797.1 736.1 810 736.1C822.9 736.1 822 736.7 825.5 736.1C829 735.5 829.1 734 831.2 732.8C833.3 731.6 835.2 730.4 838.2 728.8C841.2 727.2 845.3 725 849.5 723.4C853.7 721.8 858.9 720 863.6 718.9C868.3 717.8 873.5 717.3 877.7 716.8C881.9 716.3 885 716.6 889 716.1C893 715.6 897.2 715.2 901.7 714C906.2 712.8 911.2 711.1 915.9 709C920.6 706.9 925.3 704.2 930 701.3C934.7 698.4 939.4 694.9 944.1 691.4C948.8 687.9 953.5 683.8 958.2 680.1C962.9 676.4 967.6 672.6 972.3 669.2C977 665.8 981.7 662.4 986.4 659.6C991.1 656.8 996.5 654.1 1000.5 652.3C1004.5 650.5 1006.7 649.7 1010.4 648.7C1014.1 647.8 1018.5 646.8 1022.6 646.6C1026.7 646.5 1030.7 646.9 1034.8 647.8C1038.9 648.7 1043.2 650.3 1047 652.2C1050.8 654.1 1053.6 655.9 1057.4 659.1C1061.2 662.3 1065.5 666.9 1069.6 671.3C1073.6 675.6 1077.7 680.4 1081.7 685.2C1085.8 690 1089.8 695.5 1093.9 700C1098 704.5 1102 708.9 1106.1 712.2C1110.2 715.5 1114.2 718.3 1118.3 720C1122.3 721.7 1126.9 722.6 1130.4 722.6C1133.9 722.6 1136.2 721.6 1139.1 719.7C1142 717.8 1144.8 715.6 1147.8 711.3C1150.8 707 1154 700.3 1157 693.9C1160 687.5 1163 679.4 1165.6 673C1168.2 666.6 1170.1 661.3 1172.6 655.6C1175.1 649.9 1177.7 643.5 1180.4 638.6C1183.1 633.7 1185.9 628.8 1188.6 626.1C1191.3 623.4 1193.8 622 1196.6 622.6C1199.4 623.2 1202.6 625.7 1205.6 629.5C1208.5 633.3 1211.4 639.1 1214.3 645.2C1217.2 651.3 1220.1 658.9 1223 666.1C1225.9 673.3 1228.8 681.4 1231.7 688.6C1234.6 695.8 1237.7 703.1 1240.4 709.5C1243.2 715.9 1245.9 722.5 1248.2 726.9C1250.5 731.3 1250.7 734.6 1254.3 736.1C1257.9 737.6 1262.6 736.1 1270 736.1C1277.4 736.1 1293.8 736.1 1298.5 736.1" stroke="#ff1a1a" stroke-width="2.0" fill="none" stroke-linejoin="round"/>
<path d="M748 736.1C758.3 736.1 797.1 736.1 810 736.1C822.9 736.1 822 736.7 825.5 736.1C829 735.5 829.1 733.9 831.2 732.8C833.3 731.7 835.2 730.8 838.2 729.5C841.2 728.2 845.3 726 849.5 724.8C853.7 723.5 858.9 722.5 863.6 722C868.3 721.5 872.5 721.7 877.7 721.5C882.9 721.3 889.5 721.4 894.7 721C899.9 720.6 904.1 719.8 908.8 718.9C913.5 718 918.2 716.8 922.9 715.4C927.6 714 932.3 712 937 710.2C941.7 708.4 946.4 706.4 951.1 704.5C955.8 702.6 960.6 700.7 965.3 698.9C970 697.1 974.7 695.1 979.4 693.5C984.1 691.9 988.3 690.4 993.5 689.3C998.7 688.1 1005.5 687.5 1010.4 686.6C1015.2 685.7 1018.5 684.9 1022.6 683.8C1026.7 682.7 1030.7 681.6 1034.8 680C1038.9 678.4 1043.2 676.4 1047 674.4C1050.8 672.4 1053.6 670.9 1057.4 667.8C1061.2 664.7 1065.5 660.1 1069.6 655.7C1073.6 651.4 1077.7 646.2 1081.7 641.7C1085.8 637.2 1090.1 632.6 1093.9 628.7C1097.7 624.8 1100.8 621.2 1104.3 618.3C1107.8 615.4 1111.8 612.8 1114.8 611.3C1117.8 609.8 1120 609.6 1122.6 609.6C1125.2 609.6 1127.7 610.1 1130.4 611.3C1133.2 612.4 1135.9 613.8 1139.1 616.5C1142.3 619.2 1146 623.6 1149.6 627.8C1153.1 632 1156.9 636.5 1160.4 641.7C1164 646.9 1167.4 653.6 1170.9 659.1C1174.4 664.6 1177.8 669.6 1181.3 674.7C1184.8 679.8 1188.2 684.9 1191.7 689.5C1195.2 694.1 1198.6 698.7 1202.1 702.6C1205.6 706.5 1209.1 710 1212.6 713C1216.1 716 1219.5 718.6 1223 720.5C1226.5 722.4 1229.9 723.4 1233.4 724.3C1236.9 725.2 1240.4 725.6 1243.9 726C1247.4 726.4 1250.8 726.4 1254.3 726.5C1257.8 726.6 1261.5 726.5 1264.7 726.9C1267.9 727.2 1270.5 727.7 1273.4 728.6C1276.3 729.5 1279.2 731 1282.1 732.1C1285 733.2 1288.1 734.5 1290.8 735.2C1293.5 735.9 1297.2 736.2 1298.5 736.4" stroke="#0d2a8c" stroke-width="2.0" fill="none" stroke-linejoin="round"/>
<text x="87" y="747.9" font-family='"Liberation Serif", serif' font-size="31.5" text-anchor="end">0</text>
<text x="87" y="669.5" font-family='"Liberation Serif", serif' font-size="31.5" text-anchor="end">3</text>
<text x="87" y="591" font-family='"Liberation Serif", serif' font-size="31.5" text-anchor="end">6</text>
<text x="87" y="512.6" font-family='"Liberation Serif", serif' font-size="31.5" text-anchor="end">9</text>
<text x="87" y="434.1" font-family='"Liberation Serif", serif' font-size="31.5" text-anchor="end">12</text>
<text x="87" y="355.7" font-family='"Liberation Serif", serif' font-size="31.5" text-anchor="end">15</text>
<text x="97" y="785.3" font-family='"Liberation Serif", serif' font-size="32" text-anchor="middle">10<tspan dy="-16" font-size="25">-1</tspan></text>
<text x="234.8" y="785.3" font-family='"Liberation Serif", serif' font-size="32" text-anchor="middle">10<tspan dy="-16" font-size="25">0</tspan></text>
<text x="372.5" y="785.3" font-family='"Liberation Serif", serif' font-size="32" text-anchor="middle">10<tspan dy="-16" font-size="25">1</tspan></text>
<text x="510.2" y="785.3" font-family='"Liberation Serif", serif' font-size="32" text-anchor="middle">10<tspan dy="-16" font-size="25">2</tspan></text>
<text x="648" y="785.3" font-family='"Liberation Serif", serif' font-size="32" text-anchor="middle">10<tspan dy="-16" font-size="25">3</tspan></text>
<text x="372.5" y="822.4" font-family='"Liberation Serif", serif' font-size="31.7" text-anchor="middle">Grain size (µm)</text>
<text x="738" y="747.7" font-family='"Liberation Serif", serif' font-size="31.5" text-anchor="end">0</text>
<text x="738" y="669.3" font-family='"Liberation Serif", serif' font-size="31.5" text-anchor="end">3</text>
<text x="738" y="590.9" font-family='"Liberation Serif", serif' font-size="31.5" text-anchor="end">6</text>
<text x="738" y="512.4" font-family='"Liberation Serif", serif' font-size="31.5" text-anchor="end">9</text>
<text x="738" y="434" font-family='"Liberation Serif", serif' font-size="31.5" text-anchor="end">12</text>
<text x="738" y="355.6" font-family='"Liberation Serif", serif' font-size="31.5" text-anchor="end">15</text>
<text x="748" y="785.3" font-family='"Liberation Serif", serif' font-size="32" text-anchor="middle">10<tspan dy="-16" font-size="25">-1</tspan></text>
<text x="885.6" y="785.3" font-family='"Liberation Serif", serif' font-size="32" text-anchor="middle">10<tspan dy="-16" font-size="25">0</tspan></text>
<text x="1023.3" y="785.3" font-family='"Liberation Serif", serif' font-size="32" text-anchor="middle">10<tspan dy="-16" font-size="25">1</tspan></text>
<text x="1160.9" y="785.3" font-family='"Liberation Serif", serif' font-size="32" text-anchor="middle">10<tspan dy="-16" font-size="25">2</tspan></text>
<text x="1298.6" y="785.3" font-family='"Liberation Serif", serif' font-size="32" text-anchor="middle">10<tspan dy="-16" font-size="25">3</tspan></text>
<text x="1023.3" y="822.4" font-family='"Liberation Serif", serif' font-size="31.7" text-anchor="middle">Grain size (µm)</text>
<text transform="translate(42.6,539.5) rotate(-90)" font-family='"Liberation Serif", serif' font-size="31.9" text-anchor="middle">Frequency (%)</text>
<text x="117.4" y="384" font-family='"Liberation Sans", sans-serif' font-weight="bold" font-size="30.5">B</text>
<text x="153" y="384.5" font-family='"Liberation Serif", serif' font-size="31.5">water sample</text>
<text x="766" y="388.6" font-family='"Liberation Sans", sans-serif' font-weight="bold" font-size="31">C</text>
<text x="803" y="383.7" font-family='"Liberation Serif", serif' font-size="31.5">bed sediment sample</text>
<line x1="462.9" y1="431.9" x2="510.3" y2="431.9" stroke="#2f8fd8" stroke-width="2"/>
<text x="514" y="441.6" font-family='"Liberation Serif", serif' font-size="28.5">averaged</text>
<line x1="814.4" y1="465.9" x2="861.2" y2="465.9" stroke="#f0901e" stroke-width="2"/>
<text x="865.6" y="477.1" font-family='"Liberation Serif", serif' font-size="28.5">S1</text>
<line x1="814.4" y1="498.6" x2="861.2" y2="498.6" stroke="#ff1a1a" stroke-width="2"/>
<text x="865.6" y="509.8" font-family='"Liberation Serif", serif' font-size="28.5">S2</text>
<line x1="814.4" y1="531.3" x2="861.2" y2="531.3" stroke="#0d2a8c" stroke-width="2"/>
<text x="865.6" y="542.5" font-family='"Liberation Serif", serif' font-size="28.5">S3</text></svg>
</body></html>
